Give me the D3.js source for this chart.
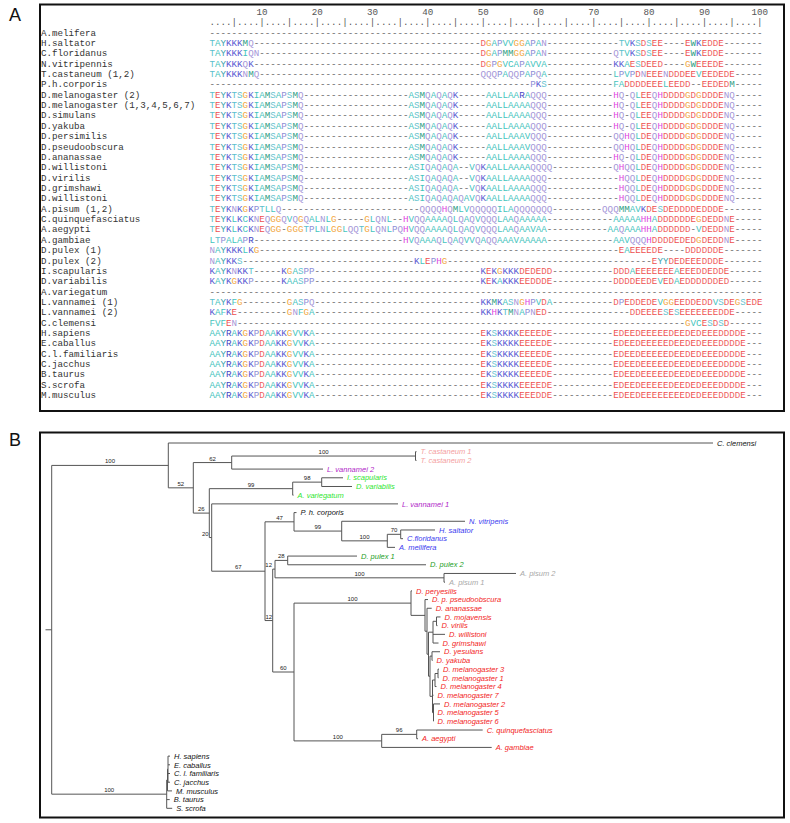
<!DOCTYPE html>
<html><head><meta charset="utf-8">
<script src="https://cdn.jsdelivr.net/npm/d3@7"></script>
<style>body{margin:0;background:#fff}svg{display:block}</style>
</head><body>
<svg id="chart" width="790" height="823"></svg>
<script>
// ---------------- Panel A data ----------------
const taxa = ["A.melifera","H.saltator","C.floridanus","N.vitripennis","T.castaneum (1,2)","P.h.corporis",
 "D.melanogaster (2)","D.melanogaster (1,3,4,5,6,7)","D.simulans","D.yakuba","D.persimilis","D.pseudoobscura",
 "D.ananassae","D.willistoni","D.virilis","D.grimshawi","D.willistoni","A.pisum (1,2)","C.quinquefasciatus",
 "A.aegypti","A.gambiae","D.pulex (1)","D.pulex (2)","I.scapularis","D.variabilis","A.variegatum",
 "L.vannamei (1)","L.vannamei (2)","C.clemensi","H.sapiens","E.caballus","C.l.familiaris","C.jacchus",
 "B.taurus","S.scrofa","M.musculus"];
const alignmentLength = 100;
const rulerTicks = [10,20,30,40,50,60,70,80,90,100];
const dros = "TEYKTSGKIAMSAPSMQ", mamm = "AAYRAKGKPDAAKKGVVKA";
// blocks: [start column, residues]; all other columns are gaps
const alignment = [
 [],
 [[1,"TAYKKKMQ"],[50,"DGAPVVGGAPAN"],[75,"TVKSDSEE"],[87,"EWKEDDE"]],
 [[1,"TAYKKKIQN"],[50,"DGAPMMGGAPAN"],[74,"QTVKSDSEE"],[87,"EWKEDDE"]],
 [[1,"TAYKKKQK"],[50,"DGPGVCAPAVVA"],[74,"KKAESDEED"],[87,"GWEEEDE"]],
 [[1,"TAYKKKNMQ"],[50,"QQQPAQQPAPQA"],[74,"LPVPDNEEENDDDEEVEEDEDE"]],
 [[59,"PKS"],[74,"FADDDDEEELEEDD--EEDEDM"]],
 [[1,dros],[37,"ASMQAQAQK"],[51,"AALLAARAQQQ"],[74,"HQ-QLEEQHDDDDGDGDDDENQ"]],
 [[1,dros],[37,"ASMQAQAQK"],[51,"AALLAAAAQQQ"],[74,"HQ-QLEEQHDDDDGDGDDDENQ"]],
 [[1,dros],[37,"ASMQAQAQK"],[51,"AALLAAAAQQQ"],[74,"HQ-QLEEQHDDDDGDGDDDENQ"]],
 [[1,dros],[37,"ASMQAQAQK"],[51,"AALLAAAAQQQ"],[74,"HQ-QLEEQHDDDDGDGDDDENQ"]],
 [[1,dros],[37,"ASMQAQAQK"],[51,"AALLAAAVQQQ"],[74,"QQHQLDEQHDDDDGDGDDDENQ"]],
 [[1,dros],[37,"ASMQAQAQK"],[51,"AALLAAAVQQQ"],[74,"QQHQLDEQHDDDDGDGDDDENQ"]],
 [[1,dros],[37,"ASMQAQAQK"],[51,"AALLAAAAQQQ"],[74,"HQ-QLDEQHDDDDGDGDDDENQ"]],
 [[1,dros],[37,"ASIQAQAQA--VQKAALLAAAAQQQQ"],[74,"QHQQLDEQHDDDDGDGDDDENQ"]],
 [[1,dros],[37,"ASIQAQAQA--VQKAALLAAAAQQQ"],[75,"HQQLDEQHDDDDGDGDDDENQ"]],
 [[1,dros],[37,"ASIQAQAQA--VQKAALLAAAAQQQ"],[75,"HQQLDEQHDDDDGDGDDDENQ"]],
 [[1,dros],[37,"ASIQAQAQAQAVQKAALLAAAAQQQ"],[75,"HQQLDEQHDDDDGDGDDDENQ"]],
 [[1,"TEYKNKGKPTLLQ"],[39,"QQQQHQMLVQQQQQILAQQQQQQQ"],[72,"QQQMMAVKDESDEDDDDEDDDE"]],
 [[1,"TEYKLKCKNEQGGQVQGQALNLG-----GLQNL--HVQQAAAAQLQAQVQQQLAAQAAAAA"],[74,"AAAAAHHADDDDDDEGDEDDNE"]],
 [[1,"TEYKLKCKNEQGG-GGGTPLNLGGLQQTGLQNLPQHVQQAAAAQLQAQVQQQLAAQAAVAA"],[73,"AAQAAAHHADDDDDD-VDEDDNE"]],
 [[1,"LTPALAPR"],[36,"HVQAAAQLQAQVVQAQQAAAVAAAAA"],[74,"AAVQQQHDDDDEDEDGDEDDNE"]],
 [[1,"NAYKKKLKG"],[75,"EAEEEEDE----DDDDDDE"]],
 [[1,"NAYKKS"],[38,"KLEPHG"],[81,"EYYDEDEEEDDDE"]],
 [[1,"KAYKNKKT-----KGASPP"],[50,"KEKGKKKDEDEDD"],[74,"DDDAEEEEEEEAEEEDDEDDE"]],
 [[1,"KAYKGKKP-----KAASPP"],[50,"KEKAKKKEEDDDE"],[74,"DDDDEEDEVEDAEDDDDDDED"]],
 [],
 [[1,"TAYKFG--------GASPQ"],[50,"KKMKASNGHPVDA"],[74,"DPEDDEDEVGGEEDDEDDVSDEGSEDE"]],
 [[1,"KAFKE---------GNFGA"],[50,"KKHKTMNAPNED"],[77,"DDEEEESESEEEEEEEDDE"]],
 [[1,"FVFEN"],[87,"GVCESDSD"]],
 [[1,mamm],[50,"EKSKKKKEEEEDE"],[74,"EDEEDEEEEEDEEDEDEEEDDDDE"]],
 [[1,mamm],[50,"EKSKKKKEEEEDE"],[74,"EDEEDEEEEEDEEDEDEEEDDDDE"]],
 [[1,mamm],[50,"EKSKKKKEEEEDE"],[74,"EDEEDEEEEEDEEDEDEEEDDDDE"]],
 [[1,mamm],[50,"EKSKKKKEEEEDE"],[74,"EDEEDEEEEEDEEDEDEEEDDDDE"]],
 [[1,mamm],[50,"EKSKKKKEEEEDE"],[74,"EDEEDEEEEEDEEDEDEEEDDDDE"]],
 [[1,mamm],[50,"EKSKKKKEEEEDE"],[74,"EDEEDEEEEEDEEDEDEEEDDDDE"]],
 [[1,mamm],[50,"EKSKKKKEEEDDE"],[74,"EDEEDEEEEEEEEDEDEEEDDDDE"]]
];
const residueColors = {
 A:"#45c4bd",V:"#45c4bd",L:"#45c4bd",I:"#45c4bd",F:"#45c4bd",C:"#45c4bd",
 M:"#2e9e83",W:"#2e9e83",T:"#5cc0cc",S:"#67c3cf",Y:"#3aa2ab",
 K:"#5a5ad2",R:"#4646c4",D:"#f06262",E:"#ee5050",G:"#f2a640",P:"#8e8ed6",
 Q:"#a596d8",N:"#a596d8",H:"#e046e0","-":"#666"
};

// ---------------- Panel B data ----------------
// [id, parent, branch length, bootstrap]
const treeNodes = [
 ["root","",0,null],["R0","root",0.062,null],
 ["A","R0",1.166,100],["C. clemensi","A",5.447,null],
 ["B","A",0.25,52],["C","B",0.384,62],["Tc","C",1.838,100],
 ["T. castaneum 1","Tc",0.01,null],["T. castaneum 2","Tc",0.01,null],["L. vannamei 2","C",0.913,null],
 ["D","B",0.16,26],["H99","D",0.834,99],["N98","H99",0.29,98],
 ["I. scapularis","N98",0.213,null],["D. variabilis","N98",0.303,null],["A. variegatum","H99",0.008,null],
 ["D2","D",0.024,20],["L. vannamei 1","D2",1.863,null],
 ["E","D2",0.533,67],["F","E",0.29,47],["P. h. corporis","F",0.025,null],
 ["H","F",0.477,99],["N. vitripenis","H",1.233,null],["I","H",0.456,100],
 ["J","I",0.134,70],["H. saltator","J",0.343,null],["C.floridanus","J",0.023,null],["A. mellifera","I",0.077,null],
 ["G","E",0.077,12],["K","G",0.023,12],["L","K",0.127,28],
 ["D. pulex 1","L",0.693,null],["D. pulex 2","L",1.383,null],
 ["M","K",1.69,100],["A. pisum 2","M",0.72,null],["A. pisum 1","M",0.01,null],
 ["N","G",0.213,60],["O","N",1.17,100],["D. peryesilis","O",0.01,null],
 ["Q","O",0.14,null],["D. p. pseudoobscura","Q",0.03,null],["R","Q",0.02,null],
 ["D. ananassae","R",0.047,null],["S","R",0.015,null],["T","S",0.045,null],["T1","T",0.035,null],
 ["D. mojavensis","T1",0.04,null],["D. virilis","T1",0.01,null],
 ["D. willistoni","T",0.12,null],["D. grimshawi","T",0.055,null],
 ["U","S",0.015,null],["V","U",0.02,null],["D. yesulans","V",0.08,null],["D. yakuba","V",0.005,null],
 ["W","U",0.025,null],["X","W",0.025,null],["Y","X",0.03,null],
 ["D. melanogaster 3","Y",0.01,null],["D. melanogaster 1","Y",0.005,null],["D. melanogaster 4","X",0.015,null],
 ["D. melanogaster 7","W",0.01,null],["Z","W",0.01,null],
 ["D. melanogaster 2","Z",0.065,null],["D. melanogaster 5","Z",0,null],["D. melanogaster 6","Z",0,null],
 ["P","N",0.877,100],["AA","P",0.35,96],
 ["C. quinquefasciatus","AA",0.66,null],["A. aegypti","AA",0.013,null],["A. gambiae","P",1.1,null],
 ["M0","R0",1.15,100],["M1","M0",0.008,null],["Ma","M1",0.005,null],
 ["H. sapiens","Ma",0.02,null],["E. caballus","Ma",0.02,null],["C. l. familiaris","Ma",0.02,null],["C. jacchus","Ma",0.02,null],
 ["M. musculus","M1",0.045,null],["B. taurus","M0",0.03,null],["S. scrofa","M0",0.055,null]
];
const pinkTaxa = ["T. castaneum 1","T. castaneum 2"];
const purpleTaxa = ["L. vannamei 2","L. vannamei 1"];
const limeTaxa = ["I. scapularis","D. variabilis","A. variegatum"];
const blueTaxa = ["N. vitripenis","H. saltator","C.floridanus","A. mellifera"];
const greenTaxa = ["D. pulex 1","D. pulex 2"];
const grayTaxa = ["A. pisum 2","A. pisum 1"];
const redTaxa = ["D. peryesilis","D. p. pseudoobscura","D. ananassae","D. mojavensis","D. virilis","D. willistoni",
 "D. grimshawi","D. yesulans","D. yakuba","D. melanogaster 3","D. melanogaster 1","D. melanogaster 4",
 "D. melanogaster 7","D. melanogaster 2","D. melanogaster 5","D. melanogaster 6","C. quinquefasciatus","A. aegypti","A. gambiae"];

// ---------------- Drawing ----------------
const svg = d3.select("#chart");
const mono = "'Courier New','Liberation Mono',monospace";
const sans = "'Liberation Sans',Arial,Helvetica,sans-serif";

// Panel frames and letters
svg.append("rect").attr("x",40).attr("y",4.5).attr("width",744).attr("height",406.5)
  .attr("fill","none").attr("stroke","#111").attr("stroke-width",2);
svg.append("rect").attr("x",40).attr("y",432.5).attr("width",744).attr("height",385)
  .attr("fill","none").attr("stroke","#111").attr("stroke-width",2);
svg.append("text").attr("x",9).attr("y",21).text("A").attr("font-family",sans).attr("font-size",18).attr("fill","#111");
svg.append("text").attr("x",9).attr("y",446).text("B").attr("font-family",sans).attr("font-size",18).attr("fill","#111");

// Panel A
const seqX = d3.scaleLinear().domain([1, alignmentLength]).range([212.2, 759.7]);
const rowY = d3.scaleLinear().domain([0, taxa.length-1]).range([35.6, 398.2]);
const gA = svg.append("g").attr("font-family",mono).attr("font-size",9.2);

gA.selectAll("text.tick").data(rulerTicks).join("text").attr("class","tick")
  .attr("x",d=>seqX(d)).attr("y",rowY(-2)).attr("text-anchor","middle").attr("fill","#555").text(d=>d);
const columns = d3.range(1, alignmentLength+1);
gA.selectAll("text.dot").data(columns).join("text").attr("class","dot")
  .attr("x",d=>seqX(d)).attr("y",rowY(-1)).attr("text-anchor","middle").attr("fill","#555")
  .text(d=>d%5===0?"|":".");

gA.selectAll("text.name").data(taxa).join("text").attr("class","name")
  .attr("x",41).attr("y",(d,i)=>rowY(i)).attr("fill","#333").text(d=>d);

const cells = [];
alignment.forEach((blocks,i)=>{
  const row = columns.map(()=>"-");
  blocks.forEach(([s,str])=>{ for(let k=0;k<str.length;k++) row[s-1+k]=str[k]; });
  row.forEach((c,j)=>cells.push({r:i,c:j+1,ch:c}));
});
gA.selectAll("text.res").data(cells).join("text").attr("class","res")
  .attr("x",d=>seqX(d.c)).attr("y",d=>rowY(d.r)).attr("text-anchor","middle")
  .attr("fill",d=>residueColors[d.ch]||"#888").text(d=>d.ch);

// Panel B
const root = d3.stratify().id(d=>d[0]).parentId(d=>d[1]||null)(treeNodes);
root.eachBefore(n=>{ n.dist = n.parent ? n.parent.dist + n.data[2] : 0; });
const leaves = root.leaves();
const xScale = d3.scaleLinear().domain([0,7]).range([45.5,745.5]);
const yScale = d3.scalePoint().domain(leaves.map(d=>d.id)).range([443,808.3]);
root.eachAfter(n=>{ n.py = n.children ? (n.children[0].py + n.children[n.children.length-1].py)/2 : yScale(n.id); });

const colorOf = id => pinkTaxa.includes(id)?"#f4a0a0": purpleTaxa.includes(id)?"#b01fc8":
  limeTaxa.includes(id)?"#2fe62f": blueTaxa.includes(id)?"#3b3bef": greenTaxa.includes(id)?"#1e9e1e":
  grayTaxa.includes(id)?"#a8a8a8": redTaxa.includes(id)?"#f21c1c":"#111";

const gB = svg.append("g");
const nodes = root.descendants();
gB.selectAll("line.h").data(nodes.filter(n=>n.parent)).join("line").attr("class","h")
  .attr("x1",n=>xScale(n.parent.dist)).attr("x2",n=>xScale(n.dist))
  .attr("y1",n=>n.py).attr("y2",n=>n.py).attr("stroke","#555").attr("stroke-width",1);
gB.selectAll("line.v").data(nodes.filter(n=>n.children)).join("line").attr("class","v")
  .attr("x1",n=>xScale(n.dist)).attr("x2",n=>xScale(n.dist))
  .attr("y1",n=>n.children[0].py).attr("y2",n=>n.children[n.children.length-1].py)
  .attr("stroke","#555").attr("stroke-width",1);

gB.selectAll("text.leaf").data(leaves).join("text").attr("class","leaf")
  .attr("x",n=>xScale(n.dist)+4).attr("y",n=>n.py+2.7)
  .attr("font-family",sans).attr("font-style","italic").attr("font-size",7.5)
  .attr("fill",n=>colorOf(n.id)).text(n=>n.id);

gB.selectAll("text.boot").data(nodes.filter(n=>n.data[3]!==null)).join("text").attr("class","boot")
  .attr("x",n=>{ const a=xScale(n.parent.dist), b=xScale(n.dist); return (b-a)<5 ? b-3 : (a+b)/2; })
  .attr("text-anchor",n=>{ const a=xScale(n.parent.dist), b=xScale(n.dist); return (b-a)<5 ? "end":"middle"; })
  .attr("y",n=>n.py-2).attr("font-family",sans).attr("font-size",6).attr("fill","#222")
  .text(n=>n.data[3]);
</script>
</body></html>
